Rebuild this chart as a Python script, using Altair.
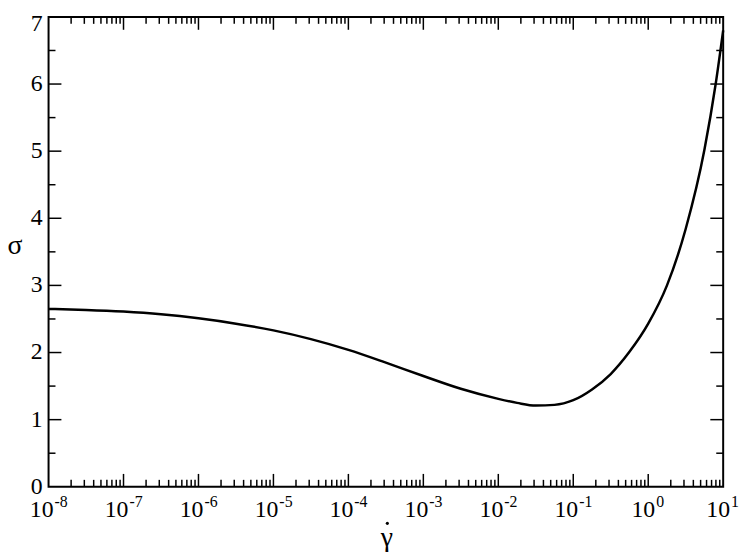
import altair as alt
import pandas as pd

# ---- data ----
shear_rate = [1e-8, 3.16e-8, 1e-7, 3.16e-7, 1e-6, 3.16e-6, 1e-5, 3.16e-5,
              1e-4, 3.16e-4, 1e-3, 3.16e-3, 1e-2, 1.78e-2, 3.16e-2, 5.62e-2,
              1e-1, 1.78e-1, 3.16e-1, 5.62e-1, 1.0, 1.78, 3.16, 5.62, 7.94, 10.0]
sigma = [2.65, 2.635, 2.61, 2.57, 2.51, 2.43, 2.33, 2.20,
         2.04, 1.85, 1.65, 1.46, 1.31, 1.25, 1.21, 1.22,
         1.29, 1.45, 1.68, 2.01, 2.43, 3.00, 3.84, 5.02, 6.00, 6.80]

decades = [1e-8, 1e-7, 1e-6, 1e-5, 1e-4, 1e-3, 1e-2, 1e-1, 1e0, 1e1]
exponents = ["-8", "-7", "-6", "-5", "-4", "-3", "-2", "-1", "0", "1"]
y_ticks = [0, 1, 2, 3, 4, 5, 6, 7]
y_labels = ["0", "1", "2", "3", "4", "5", "6", "7"]
y_minor = [0.5, 1.5, 2.5, 3.5, 4.5, 5.5, 6.5]
x_minor = [k * d for d in decades[:-1] for k in range(2, 10)]

W, H = 682, 475
MAJ, MIN = 13, 7
FONT = "Liberation Serif, Times New Roman, Times, serif"

curve_df = pd.DataFrame({"rate": shear_rate, "sigma": sigma})
lab_df = pd.DataFrame({"rate": decades, "exp": exponents,
                       "neg": [e.startswith("-") for e in exponents]})
ylab_df = pd.DataFrame({"s": y_ticks, "lab": y_labels})
xmaj_df = pd.DataFrame({"rate": decades[1:-1]})
xmin_df = pd.DataFrame({"rate": x_minor})
ymaj_df = pd.DataFrame({"s": y_ticks[1:-1]})
ymin_df = pd.DataFrame({"s": y_minor})

xscale = alt.Scale(type="log", domain=[1e-8, 10], nice=False)
yscale = alt.Scale(domain=[0, 7], nice=False, zero=False)

X = alt.X("rate:Q", scale=xscale, axis=None)
Y = alt.Y("s:Q", scale=yscale, axis=None)

curve = alt.Chart(curve_df).mark_line(
    color="black", strokeWidth=2.5, interpolate="monotone"
).encode(x=X, y=alt.Y("sigma:Q", scale=yscale, axis=None))


def xticks(df, length):
    bottom = alt.Chart(df).mark_rule(color="black", strokeWidth=1.5).encode(
        x=X, y=alt.value(H), y2=alt.value(H - length))
    top = alt.Chart(df).mark_rule(color="black", strokeWidth=1.5).encode(
        x=X, y=alt.value(0), y2=alt.value(length))
    return [bottom, top]


def yticks(df, length):
    left = alt.Chart(df).mark_rule(color="black", strokeWidth=1.5).encode(
        y=Y, x=alt.value(0), x2=alt.value(length))
    right = alt.Chart(df).mark_rule(color="black", strokeWidth=1.5).encode(
        y=Y, x=alt.value(W), x2=alt.value(W - length))
    return [left, right]


tick_layers = (xticks(xmaj_df, MAJ) + xticks(xmin_df, MIN)
               + yticks(ymaj_df, MAJ) + yticks(ymin_df, MIN))


def xlabels(neg, base_dx, exp_dx):
    flt = f"datum.neg == {str(neg).lower()}"
    base = alt.Chart(lab_df).transform_filter(flt).mark_text(
        font=FONT, fontSize=24, color="black", align="right",
        baseline="alphabetic", dx=base_dx
    ).encode(x=X, y=alt.value(H + 31), text=alt.value("10"))
    exp = alt.Chart(lab_df).transform_filter(flt).mark_text(
        font=FONT, fontSize=16, color="black", align="left",
        baseline="alphabetic", dx=exp_dx
    ).encode(x=X, y=alt.value(H + 20), text="exp:N")
    return [base, exp]


label_layers = xlabels(True, 5, 6) + xlabels(False, 7, 8)

ylabels = alt.Chart(ylab_df).transform_filter("datum.s < 7").mark_text(
    font=FONT, fontSize=24, color="black", align="right", baseline="middle"
).encode(y=Y, x=alt.value(-6), text="lab:N")
ylabel_top = alt.Chart(ylab_df).transform_filter("datum.s == 7").mark_text(
    font=FONT, fontSize=24, color="black", align="right", baseline="middle", dy=7
).encode(y=Y, x=alt.value(-6), text="lab:N")

ytitle = alt.Chart(pd.DataFrame({"t": ["σ"]})).mark_text(
    font=FONT, fontSize=28, color="black", align="center", baseline="middle"
).encode(x=alt.value(-34), y=alt.value(232), text="t:N")

xtitle = alt.Chart(pd.DataFrame({"t": ["γ"]})).mark_text(
    font=FONT, fontSize=28, color="black", align="center", baseline="alphabetic"
).encode(x=alt.value(W / 2 + 1), y=alt.value(H + 60), text="t:N")
xdot = alt.Chart(pd.DataFrame({"d": [0]})).mark_circle(
    color="black", opacity=1, size=10
).encode(x=alt.value(W / 2 + 1.5), y=alt.value(H + 37))

chart = alt.layer(
    curve, *tick_layers, *label_layers, ylabels, ylabel_top, ytitle, xtitle, xdot
).properties(
    width=W, height=H,
    autosize=alt.AutoSizeParams(type="none"),
    padding={"left": 41, "top": 6, "right": 16, "bottom": 70},
    background="white",
).configure_view(stroke="black", strokeWidth=2)

chart.save("out.html", embed_options={"renderer": "svg", "actions": False})
